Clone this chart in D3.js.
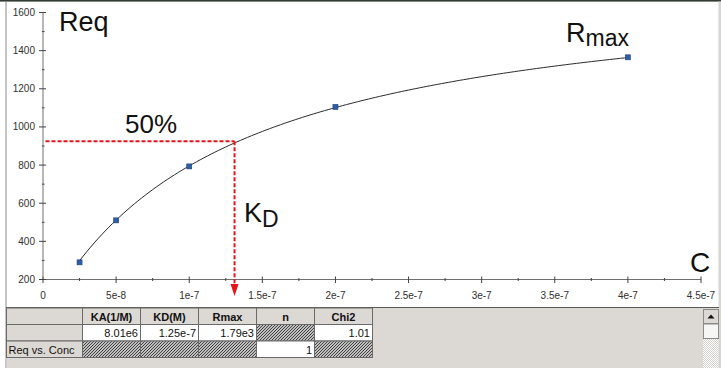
<!DOCTYPE html>
<html>
<head>
<meta charset="utf-8">
<script src="https://cdn.jsdelivr.net/npm/d3@7/dist/d3.min.js"></script>
<style>
  html, body { margin: 0; padding: 0; background: #ffffff; }
  svg { display: block; font-family: "Liberation Sans", Arial, sans-serif; }
</style>
</head>
<body>
<svg id="chart" width="721" height="368"></svg>
<script>
// Measured equilibrium responses vs analyte concentration
const concentrations = [2.5e-8, 5e-8, 1e-7, 2e-7, 4e-7];
const reqValues = [290, 510, 793, 1105, 1365];

// Axis ticks
const xTicks = [0, 5e-8, 1e-7, 1.5e-7, 2e-7, 2.5e-7, 3e-7, 3.5e-7, 4e-7, 4.5e-7];
const xTickLabels = ["0", "5e-8", "1e-7", "1.5e-7", "2e-7", "2.5e-7", "3e-7", "3.5e-7", "4e-7", "4.5e-7"];
const yTicks = [200, 400, 600, 800, 1000, 1200, 1400, 1600];

// Steady-state affinity fit results (shown in the table)
const fitHeaders = ["KA(1/M)", "KD(M)", "Rmax", "n", "Chi2"];
const fitValues = ["8.01e6", "1.25e-7", "1.79e3", null, "1.01"];
const fitRow2 = [null, null, null, "1", null];
const rowLabels = ["", "", "Req vs. Conc"];
const kd = 1.25e-7;
const rmax = 1790;

// Half-saturation guide point
const halfPoint = { c: 1.31e-7, req: 925 };

const svg = d3.select("#chart");

const x = d3.scaleLinear().domain([0, 4.5e-7]).range([43, 701]);
const y = d3.scaleLinear().domain([200, 1600]).range([279.5, 12.5]);

// Hatch pattern for disabled cells
const defs = svg.append("defs");
const pat = defs.append("pattern")
  .attr("id", "hatch").attr("patternUnits", "userSpaceOnUse")
  .attr("width", 3).attr("height", 3);
pat.append("rect").attr("width", 3).attr("height", 3).attr("fill", "#f4f4f4");
pat.append("path").attr("d", "M-1,1 l2,-2 M0,3 l3,-3 M2,4 l2,-2")
  .attr("stroke", "#3a3a3a").attr("stroke-width", 1.1);
const dots = defs.append("pattern")
  .attr("id", "dots").attr("patternUnits", "userSpaceOnUse")
  .attr("width", 2).attr("height", 2);
dots.append("rect").attr("width", 2).attr("height", 2).attr("fill", "#ffffff");
dots.append("rect").attr("width", 1).attr("height", 1).attr("fill", "#d4d0cc");
dots.append("rect").attr("x", 1).attr("y", 1).attr("width", 1).attr("height", 1).attr("fill", "#d4d0cc");

// Frame
svg.append("rect").attr("x", 0).attr("y", 0).attr("width", 721).attr("height", 368).attr("fill", "#ffffff");
svg.append("rect").attr("x", 0).attr("y", 0).attr("width", 721).attr("height", 1.6).attr("fill", "#323c34");
svg.append("line").attr("x1", 6).attr("x2", 6).attr("y1", 1).attr("y2", 368)
  .attr("stroke", "#8a8a8a").attr("stroke-width", 1);
svg.append("rect").attr("x", 718.5).attr("y", 1.6).attr("width", 2.5).attr("height", 366.4).attr("fill", "#d6d6d0");

// Axes
const axisColor = "#707070";
const gx = svg.append("g");
gx.append("line").attr("x1", x(0)).attr("x2", x(4.5e-7)).attr("y1", y(200)).attr("y2", y(200))
  .attr("stroke", axisColor).attr("stroke-width", 1);
const xMinor = d3.range(0, 9).map(i => 2.5e-8 + i * 5e-8);
gx.selectAll("line.minor").data(xMinor).join("line").attr("class", "minor")
  .attr("x1", d => x(d)).attr("x2", d => x(d))
  .attr("y1", y(200) - 1.5).attr("y2", y(200) + 1.5)
  .attr("stroke", "#404040").attr("stroke-width", 1);
gx.selectAll("line.major").data(xTicks).join("line").attr("class", "major")
  .attr("x1", d => x(d)).attr("x2", d => x(d))
  .attr("y1", y(200) - 3).attr("y2", y(200) + 3.5)
  .attr("stroke", "#404040").attr("stroke-width", 1);
gx.selectAll("text").data(xTicks).join("text")
  .attr("x", d => x(d)).attr("y", 299)
  .attr("text-anchor", "middle").attr("font-size", 10).attr("fill", "#303030")
  .text((d, i) => xTickLabels[i]);

const gy = svg.append("g");
gy.append("line").attr("x1", x(0)).attr("x2", x(0)).attr("y1", y(200)).attr("y2", y(1600))
  .attr("stroke", axisColor).attr("stroke-width", 1);
const yMinor = d3.range(0, 7).map(i => 300 + i * 200);
gy.selectAll("line.minor").data(yMinor).join("line").attr("class", "minor")
  .attr("x1", x(0) - 1).attr("x2", x(0) + 1.5)
  .attr("y1", d => y(d)).attr("y2", d => y(d))
  .attr("stroke", "#404040").attr("stroke-width", 1);
gy.selectAll("line.major").data(yTicks).join("line").attr("class", "major")
  .attr("x1", x(0) - 4).attr("x2", x(0) + 3)
  .attr("y1", d => y(d)).attr("y2", d => y(d))
  .attr("stroke", "#404040").attr("stroke-width", 1);
gy.selectAll("text").data(yTicks).join("text")
  .attr("x", 35).attr("y", d => y(d) + 3.5)
  .attr("text-anchor", "end").attr("font-size", 10).attr("fill", "#303030")
  .text(d => d);

// Fitted steady-state model curve: Req = Rmax * C / (KD + C)
const curveC = d3.range(concentrations[0], concentrations[concentrations.length - 1] + 1e-10, 2.5e-9);
const line = d3.line().x(d => x(d)).y(d => y(rmax * d / (kd + d))).curve(d3.curveLinear);
svg.append("path").datum(curveC).attr("d", line)
  .attr("fill", "none").attr("stroke", "#2a2a2a").attr("stroke-width", 1);

// Data points
svg.selectAll("rect.pt").data(concentrations).join("rect").attr("class", "pt")
  .attr("x", d => x(d) - 2.5).attr("y", (d, i) => y(reqValues[i]) - 2.5)
  .attr("width", 5).attr("height", 5)
  .attr("fill", "#2c5fa8").attr("stroke", "#1d3f78").attr("stroke-width", 0.6);

// Half-saturation guides
const red = "#e8141c";
svg.append("line")
  .attr("x1", x(0) + 2.5).attr("x2", x(halfPoint.c))
  .attr("y1", y(halfPoint.req)).attr("y2", y(halfPoint.req))
  .attr("stroke", red).attr("stroke-width", 2).attr("stroke-dasharray", "4,2");
svg.append("line")
  .attr("x1", x(halfPoint.c)).attr("x2", x(halfPoint.c))
  .attr("y1", y(halfPoint.req)).attr("y2", 286)
  .attr("stroke", red).attr("stroke-width", 2).attr("stroke-dasharray", "4,2");
svg.append("path")
  .attr("d", `M${x(halfPoint.c) - 4},284 L${x(halfPoint.c) + 4},284 L${x(halfPoint.c)},296 Z`)
  .attr("fill", red);

// Annotations
const ann = svg.append("g").attr("fill", "#111111");
ann.append("text").attr("x", 59).attr("y", 31).attr("font-size", 27).text("Req");
ann.append("text").attr("x", 125).attr("y", 133).attr("font-size", 26).text("50%");
const rm = ann.append("text").attr("x", 566).attr("y", 41.5).attr("font-size", 27);
rm.append("tspan").text("R");
rm.append("tspan").attr("font-size", 23).attr("dy", 4.5).text("max");
const kdT = ann.append("text").attr("x", 244).attr("y", 221.5).attr("font-size", 27);
kdT.append("tspan").text("K");
kdT.append("tspan").attr("font-size", 23).attr("dy", 5.5).text("D");
ann.append("text").attr("x", 690).attr("y", 271.5).attr("font-size", 28).text("C");

// Results table panel
const panelTop = 307;
svg.append("rect").attr("x", 6.5).attr("y", panelTop).attr("width", 712).attr("height", 368 - panelTop)
  .attr("fill", "#dcd8d4");
svg.append("line").attr("x1", 6).attr("x2", 719).attr("y1", panelTop + 0.5).attr("y2", panelTop + 0.5)
  .attr("stroke", "#5a5a5a").attr("stroke-width", 1);

const colEdges = [6.5, 82.5, 140.5, 198.5, 256.5, 314.5, 372.5];
const rowEdges = [308, 324.5, 341, 357.5];
const table = svg.append("g").attr("font-size", 11);

function cell(ci, ri, fill) {
  table.append("rect")
    .attr("x", colEdges[ci]).attr("y", rowEdges[ri])
    .attr("width", colEdges[ci + 1] - colEdges[ci]).attr("height", rowEdges[ri + 1] - rowEdges[ri])
    .attr("fill", fill).attr("stroke", "#6a6a6a").attr("stroke-width", 1);
}

// Header row
cell(0, 0, "#dcd8d4");
fitHeaders.forEach((h, i) => {
  cell(i + 1, 0, "#dcd8d4");
  table.append("text")
    .attr("x", (colEdges[i + 1] + colEdges[i + 2]) / 2).attr("y", rowEdges[0] + 12.5)
    .attr("text-anchor", "middle").attr("font-weight", "bold").attr("fill", "#111")
    .text(h);
});

// Value rows
[fitValues, fitRow2].forEach((row, r) => {
  const ri = r + 1;
  cell(0, ri, "#dcd8d4");
  if (rowLabels[ri]) {
    table.append("text").attr("x", colEdges[0] + 2).attr("y", rowEdges[ri] + 12.5)
      .attr("fill", "#111").text(rowLabels[ri]);
  }
  row.forEach((v, i) => {
    cell(i + 1, ri, v === null ? "url(#hatch)" : "#ffffff");
    if (v !== null) {
      table.append("text")
        .attr("x", colEdges[i + 2] - 2.5).attr("y", rowEdges[ri] + 12.5)
        .attr("text-anchor", "end").attr("fill", "#111").text(v);
    }
  });
});

// Scrollbar
const sb = svg.append("g");
sb.append("rect").attr("x", 703).attr("y", 309).attr("width", 15.5).attr("height", 59).attr("fill", "url(#dots)");
sb.append("rect").attr("x", 703.5).attr("y", 309.5).attr("width", 15).attr("height", 14)
  .attr("fill", "#dcd8d4").attr("stroke", "#8a8a8a").attr("stroke-width", 1);
sb.append("path").attr("d", "M707.5,318.5 L714.5,318.5 L711,314.5 Z").attr("fill", "#111");
sb.append("rect").attr("x", 703.5).attr("y", 324).attr("width", 15).attr("height", 14.5)
  .attr("fill", "#f6f6f4").attr("stroke", "#8a8a8a").attr("stroke-width", 1);
</script>
</body>
</html>
